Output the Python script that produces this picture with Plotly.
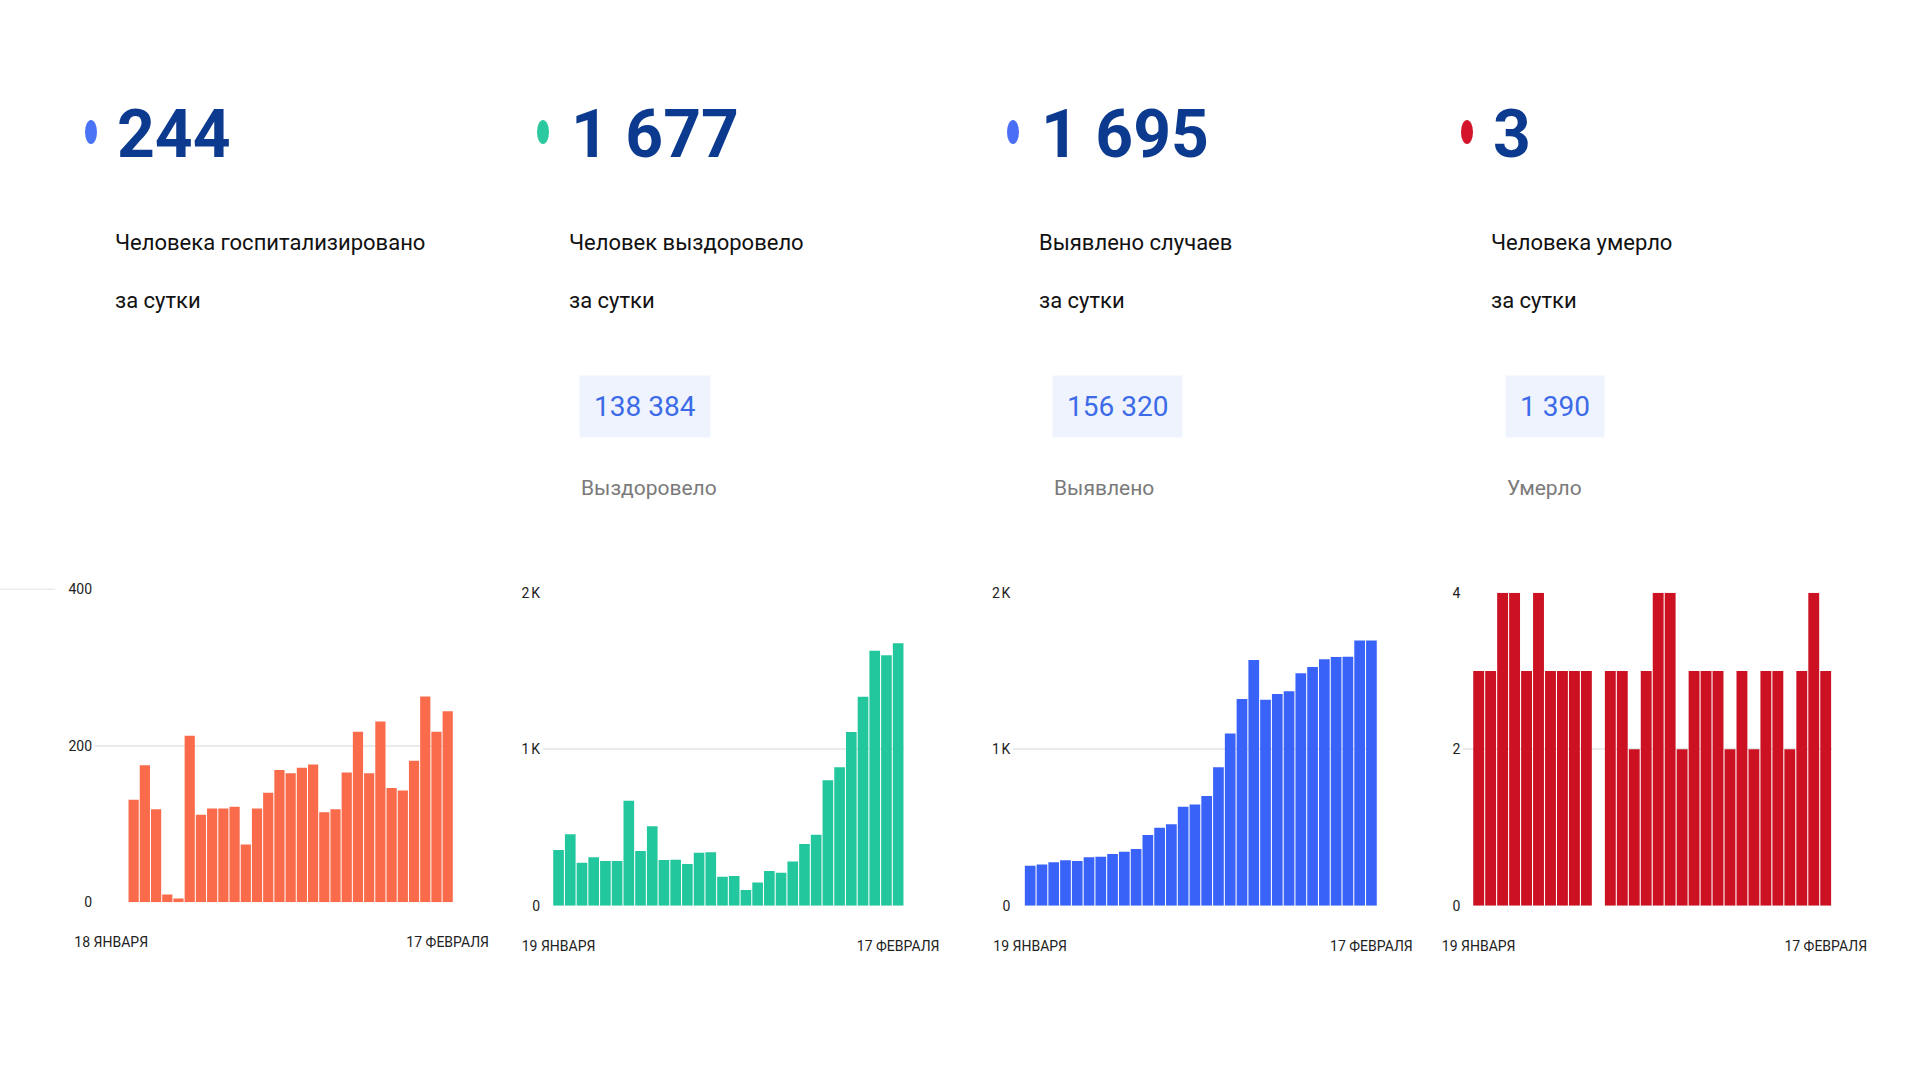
import plotly.graph_objects as go

## Data:
# ======================================
headline = ["244", "1 677", "1 695", "3"]
subtitle = ["Человека госпитализировано", "Человек выздоровело", "Выявлено случаев", "Человека умерло"]
subtitle_2 = "за сутки"
totals = [None, "138 384", "156 320", "1 390"]
totals_label = [None, "Выздоровело", "Выявлено", "Умерло"]

hosp_ticks = ["18 ЯНВАРЯ", "17 ФЕВРАЛЯ"]
other_ticks = ["19 ЯНВАРЯ", "17 ФЕВРАЛЯ"]

hospitalized = [None, None, 131, 175, 119, 10, 5, 213, 112, 120, 120, 122, 74, 120, 140, 169,
                165, 172, 176, 115, 119, 166, 218, 165, 231, 146, 143, 181, 263, 218, 244]
recovered = [356, 456, 275, 309, 285, 285, 671, 349, 507, 292, 294, 266, 339, 341, 185,
             190, 100, 149, 222, 211, 283, 394, 454, 801, 884, 1110, 1335, 1629, 1600, 1677]
cases = [256, 264, 277, 290, 285, 309, 313, 330, 345, 362, 452, 498, 520, 633, 647,
         701, 884, 1101, 1321, 1570, 1316, 1352, 1370, 1485, 1525, 1574, 1589, 1591, 1695, 1695]
deaths = [3, 3, 4, 4, 3, 4, 3, 3, 3, 3, 0, 3, 3, 2, 3, 4, 4, 2, 3, 3, 3, 2, 3, 2, 3,
          3, 2, 3, 4, 3]

y_ticks = [[0, 200, 400], [0, 1000, 2000], [0, 1000, 2000], [0, 2, 4]]
y_ticktext = [["0", "200", "400"], ["0", "1\u202fK", "2\u202fK"], ["0", "1\u202fK", "2\u202fK"], ["0", "2", "4"]]

## Stijl:
# ======================================
W, H = 1920, 1080
FONT = "Roboto, Liberation Sans, sans-serif"
bar_colors = ["#f96b4a", "#23c79e", "#3862f8", "#cc1122"]
dot_colors = ["#4a74f5", "#2cc9a0", "#4a6ef5", "#d4142a"]
NAVY = "#0c3a8e"

# pixel-geometrie van de vier panelen: (start raster, start staven, eind staven, y van 0, y van top)
panels = [
    (95, 105.6, 453.3, 902.3, 589.3),
    (543, 552.7, 904, 905.7, 592.7),
    (1013.3, 1024.3, 1377.3, 905.7, 592.7),
    (1463.3, 1472.7, 1831.7, 905.7, 592.7),
]
# kolommen: x stip, x tekst, x badge
cols = [(91, 115, None), (543, 569, 579), (1013, 1039, 1052), (1467, 1491, 1505)]


def px_x(x):
    return x / W


def px_y(y):
    return 1 - y / H


series = [hospitalized, recovered, cases, deaths]
ticks = [hosp_ticks, other_ticks, other_ticks, other_ticks]

fig = go.Figure()
layout_axes = {}

for i, values in enumerate(series):
    n = len(values)
    sfx = "" if i == 0 else str(i + 1)
    fig.add_trace(
        go.Bar(
            x=list(range(n)),
            y=values,
            marker=dict(color=bar_colors[i], line=dict(width=0)),
            xaxis="x" + sfx,
            yaxis="y" + sfx,
            showlegend=False,
            hoverinfo="y",
        )
    )

    g0, b0, b1, y0, y1 = panels[i]
    slot = (b1 - b0) / n
    lo = -0.5 - (b0 - g0) / slot
    top = y_ticks[i][-1]

    layout_axes["xaxis" + sfx] = dict(
        domain=[px_x(g0), px_x(b1)],
        range=[lo, n - 0.5],
        anchor="y" + sfx,
        automargin=False,
        showgrid=False,
        zeroline=False,
        showline=False,
        tickmode="array",
        tickvals=[0, n - 1],
        ticktext=ticks[i],
        ticklabelstandoff=30,
        tickfont=dict(family=FONT, size=14, color="#222"),
        fixedrange=True,
    )
    layout_axes["yaxis" + sfx] = dict(
        domain=[px_y(y0), px_y(y1)],
        range=[0, top],
        anchor="x" + sfx,
        automargin=False,
        showgrid=True,
        gridcolor="#ebebeb",
        gridwidth=1.5,
        zeroline=False,
        showline=False,
        tickmode="array",
        tickvals=y_ticks[i],
        ticktext=y_ticktext[i],
        ticklabelstandoff=2,
        tickfont=dict(family=FONT, size=14, color="#222"),
        fixedrange=True,
    )

## Kopteksten:
# ======================================
annotations = []
shapes = []

for i, (dot_x, text_x, pill_x) in enumerate(cols):
    # gekleurde stip (ellips)
    shapes.append(dict(
        type="circle", xref="paper", yref="paper",
        x0=px_x(dot_x - 6), x1=px_x(dot_x + 6),
        y0=px_y(132 + 12), y1=px_y(132 - 12),
        fillcolor=dot_colors[i], line=dict(width=0),
    ))
    annotations.append(dict(
        x=px_x(text_x), y=px_y(134), xref="paper", yref="paper",
        xanchor="left", yanchor="middle", showarrow=False,
        text="<b>" + headline[i] + "</b>",
        font=dict(family=FONT, size=66, color=NAVY),
    ))
    annotations.append(dict(
        x=px_x(text_x - 2), y=px_y(243), xref="paper", yref="paper",
        xanchor="left", yanchor="middle", showarrow=False,
        text=subtitle[i],
        font=dict(family=FONT, size=22, color="#111"),
    ))
    annotations.append(dict(
        x=px_x(text_x - 2), y=px_y(301), xref="paper", yref="paper",
        xanchor="left", yanchor="middle", showarrow=False,
        text=subtitle_2,
        font=dict(family=FONT, size=22, color="#111"),
    ))
    if pill_x is not None:
        annotations.append(dict(
            x=px_x(pill_x), y=px_y(407), xref="paper", yref="paper",
            xanchor="left", yanchor="middle", showarrow=False,
            text=totals[i],
            bgcolor="#eef3fd", borderpad=14,
            font=dict(family=FONT, size=28, color="#3d6be8"),
        ))
        annotations.append(dict(
            x=px_x(pill_x), y=px_y(488), xref="paper", yref="paper",
            xanchor="left", yanchor="middle", showarrow=False,
            text=totals_label[i],
            font=dict(family=FONT, size=21, color="#7a7a7a"),
        ))

# restje rasterlijn links bovenaan
shapes.append(dict(
    type="line", xref="paper", yref="paper",
    x0=0, x1=px_x(55), y0=px_y(589.3), y1=px_y(589.3),
    line=dict(color="#ebebeb", width=1.5),
))

fig.update_layout(
    width=W,
    height=H,
    margin=dict(l=0, r=0, t=0, b=0, pad=0),
    paper_bgcolor="white",
    plot_bgcolor="white",
    bargap=0.09,
    annotations=annotations,
    shapes=shapes,
    **layout_axes,
)

# standaard body-marge (8px) van de pagina weghalen
fig.write_html(
    "out.html",
    config={"displayModeBar": False},
    post_script="document.body.style.margin = '0px';",
)
